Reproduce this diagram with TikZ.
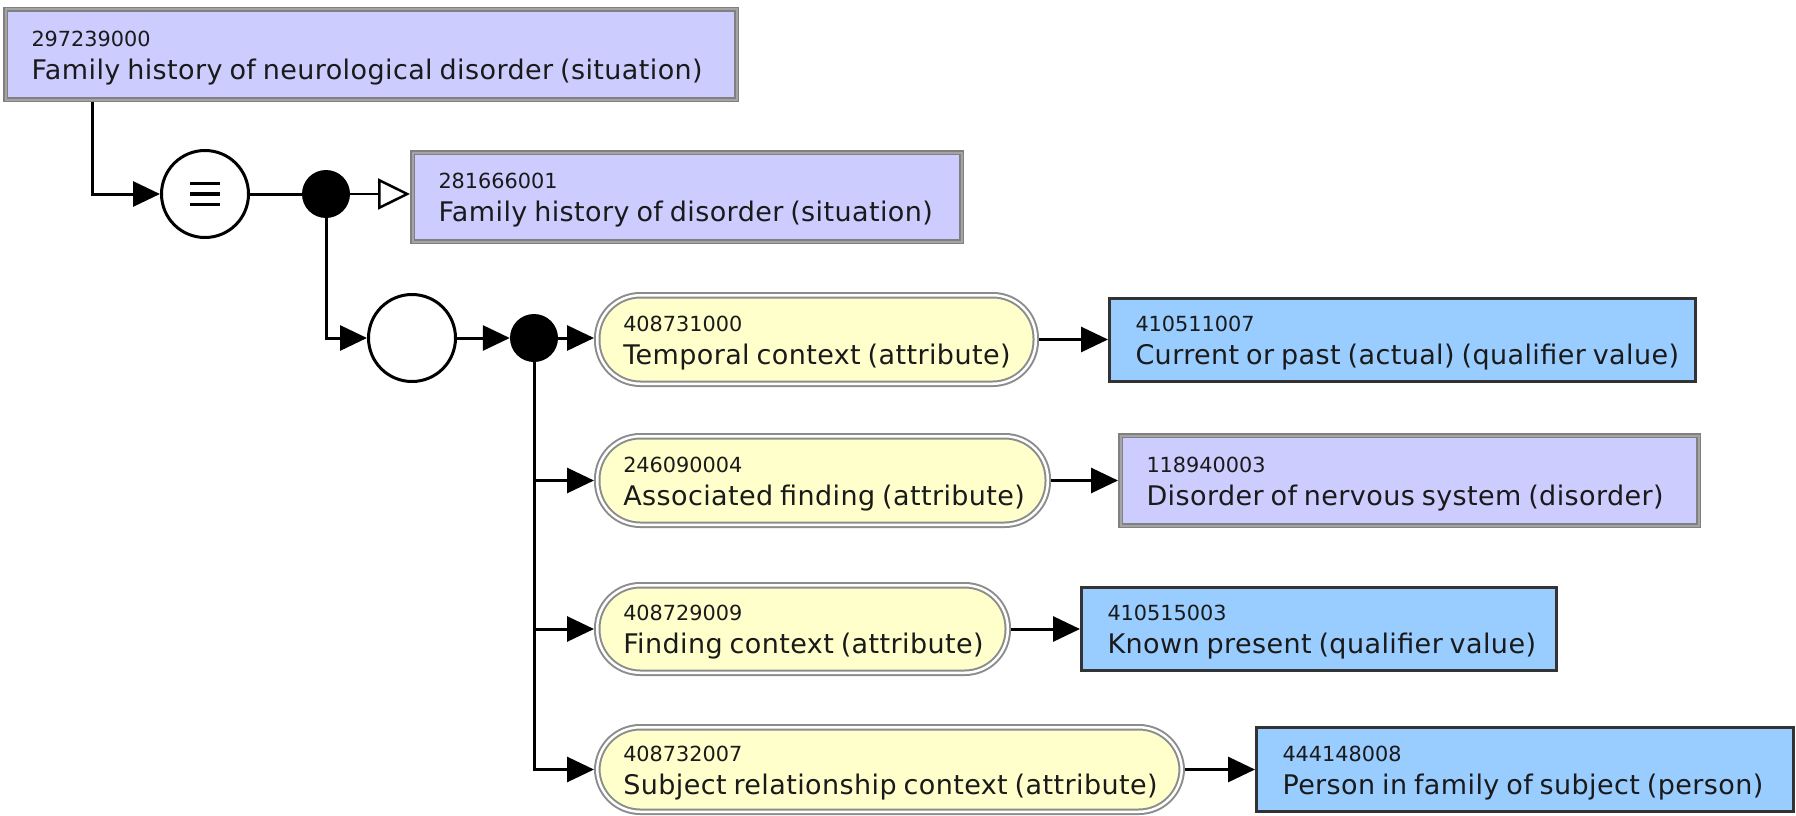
\documentclass[tikz,border=0pt]{standalone}
\usepackage{fontspec}
\setmainfont{DejaVu Sans}
\newfontfamily\termfamily[LetterSpace=1.5]{DejaVu Sans}
\usetikzlibrary{arrows.meta}

\definecolor{defFill}{HTML}{CCCCFF}
\definecolor{primFill}{HTML}{99CCFF}
\definecolor{attrFill}{HTML}{FFFFCC}
\definecolor{frameDark}{HTML}{808080}
\definecolor{frameLight}{HTML}{A4A4A4}
\definecolor{attrFrame}{HTML}{8C8C8C}
\definecolor{primEdge}{HTML}{333333}
\definecolor{inkText}{HTML}{1A1A1A}

% concept id (small) and term (large); the struts fix the line positions
\newcommand\idf{\fontsize{20.8}{0}\selectfont\rule{0pt}{22pt}}
\newcommand\lbf{\termfamily\fontsize{27}{0}\selectfont\spaceskip=6.9pt\rule{0pt}{32pt}}

\begin{document}
\begin{tikzpicture}[x=1pt,y=-1pt,
  concept/.style={rectangle, align=left, inner xsep=26, inner ysep=0, text=inkText},
  defined/.style={concept, fill=defFill, draw=frameDark, double=frameLight,
                  double distance=2, line width=1.5, outer sep=2.5},
  primitive/.style={concept, fill=primFill, draw=primEdge, line width=3, outer sep=1.5},
  attribute/.style={concept, fill=attrFill, draw=attrFrame, double=white,
                  double distance=2.5, line width=2, rounded corners=43, outer sep=3.25},
  operator/.style={circle, draw=black, line width=3, fill=white, minimum size=87, inner sep=0},
  conj/.style={circle, fill=black, minimum size=48, inner sep=0},
  link/.style={draw=black, line width=3},
  rel/.style={link, -{Triangle[length=27,width=25]}},
  parent/.style={draw=black, line width=2.5, -{Triangle[open,length=32,width=31,fill=white]}}
]
\useasboundingbox (0,0) rectangle (1796,816);

% concepts
\node[defined, text width=679, minimum height=90] (c297239000) at (371,54.5)
  {\idf 297239000\\\lbf\mbox{Family history of neurological disorder (situation)}};
\node[defined, text width=497, minimum height=89] (c281666001) at (687,197)
  {\idf 281666001\\\lbf\mbox{Family history of disorder (situation)}};

% attributes
\node[attribute, text width=386.5, minimum height=88.5] (a408731000) at (816.5,339.5)
  {\idf 408731000\\\lbf\mbox{Temporal context (attribute)}};
\node[attribute, text width=398.5, minimum height=88.5] (a246090004) at (822.5,480.5)
  {\idf 246090004\\\lbf\mbox{Associated finding (attribute)}};
\node[attribute, text width=358.5, minimum height=87.5] (a408729009) at (802.5,629)
  {\idf 408729009\\\lbf\mbox{Finding context (attribute)}};
\node[attribute, text width=532.5, minimum height=84.5] (a408732007) at (889.5,769.5)
  {\idf 408732007\\\lbf\mbox{Subject relationship context (attribute)}};

% attribute values
\node[primitive, text width=534, minimum height=83] (v410511007) at (1402.5,340)
  {\idf 410511007\\\lbf\mbox{Current or past (actual) (qualifier value)}};
\node[defined, text width=526, minimum height=90] (v118940003) at (1409.5,480.5)
  {\idf 118940003\\\lbf\mbox{Disorder of nervous system (disorder)}};
\node[primitive, text width=423, minimum height=83] (v410515003) at (1319,629)
  {\idf 410515003\\\lbf\mbox{Known present (qualifier value)}};
\node[primitive, text width=485, minimum height=84] (v444148008) at (1525,769.5)
  {\idf 444148008\\\lbf\mbox{Person in family of subject (person)}};

% definition operators and conjunction points
\node[operator] (equiv) at (205,194) {};
\node[conj] (join1) at (326,194) {};
\node[operator] (group) at (412,338) {};
\node[conj] (join2) at (534,338) {};

% "equivalent to" mark
\foreach \dy in {-10.5,0,10.5}
  \draw[line width=3.5] ([xshift=-15,yshift=\dy]equiv.center) -- ([xshift=15,yshift=\dy]equiv.center);

% connectors
\draw[rel] ([xshift=89]c297239000.south west) |- (equiv.west);
\draw[link] (equiv.east) -- (join1.west);
\draw[parent] (join1.east) -- (join1.east -| c281666001.west);
\draw[rel] (join1.south) |- (group.west);
\draw[rel] (group.east) -- (join2.west);
\draw[rel] (join2.east) -- (join2.east -| a408731000.west);
\draw[rel] (join2.south) |- (a246090004.west);
\draw[rel] (join2.south) |- (a408729009.west);
\draw[rel] (join2.south) |- (a408732007.west);

\draw[rel] (a408731000.east) -- (a408731000.east -| v410511007.west);
\draw[rel] (a246090004.east) -- (a246090004.east -| v118940003.west);
\draw[rel] (a408729009.east) -- (a408729009.east -| v410515003.west);
\draw[rel] (a408732007.east) -- (a408732007.east -| v444148008.west);
\end{tikzpicture}
\end{document}
